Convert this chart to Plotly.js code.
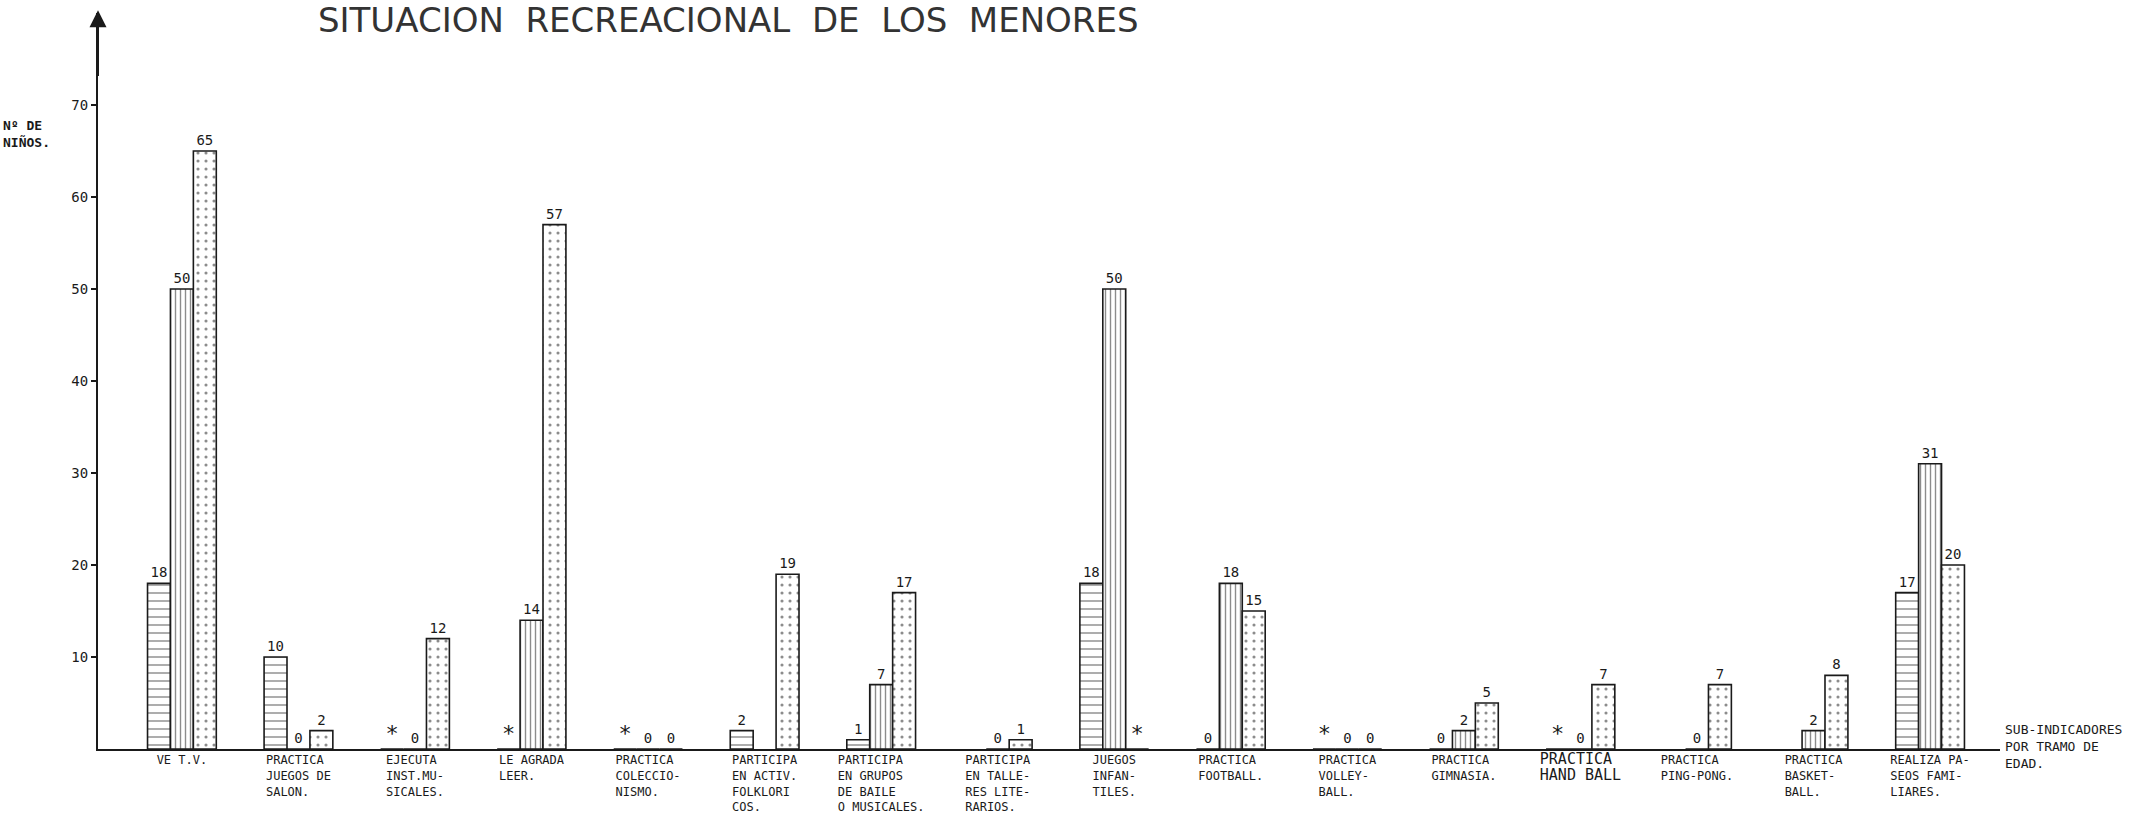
<!DOCTYPE html>
<html>
<head>
<meta charset="utf-8">
<script src="https://cdn.plot.ly/plotly-3.0.1.min.js"></script>
<style>html,body{margin:0;padding:0;background:#fff;}#chart{width:2142px;height:814px;}</style>
</head>
<body>
<div id="chart"></div>
<script>
// Categories (sub-indicators), as lettered under the x axis
const categories = [
  "VE T.V.",
  "PRACTICA<br>JUEGOS DE<br>SALON.",
  "EJECUTA<br>INST.MU-<br>SICALES.",
  "LE AGRADA<br>LEER.",
  "PRACTICA<br>COLECCIO-<br>NISMO.",
  "PARTICIPA<br>EN ACTIV.<br>FOLKLORI<br>COS.",
  "PARTICIPA<br>EN GRUPOS<br>DE BAILE<br>O MUSICALES.",
  "PARTICIPA<br>EN TALLE-<br>RES LITE-<br>RARIOS.",
  "JUEGOS<br>INFAN-<br>TILES.",
  "PRACTICA<br>FOOTBALL.",
  "PRACTICA<br>VOLLEY-<br>BALL.",
  "PRACTICA<br>GIMNASIA.",
  "PRACTICA<br>HAND BALL",
  "PRACTICA<br>PING-PONG.",
  "PRACTICA<br>BASKET-<br>BALL.",
  "REALIZA PA-<br>SEOS FAMI-<br>LIARES."
];
// Number of children per age bracket ("tramo de edad").
// '*' = marked with an asterisk in the original, null = nothing drawn/labelled.
const tramo1 = [18, 10, '*', '*', '*', 2, 1, null, 18, 0, '*', 0, '*', null, null, 17];
const tramo2 = [50, 0, 0, 14, 0, null, 7, 0, 50, 18, 0, 2, 0, 0, 2, 31];
const tramo3 = [65, 2, 12, 57, 0, 19, 17, 1, '*', 15, 0, 5, 7, 7, 8, 20];

const yTicks = [10, 20, 30, 40, 50, 60, 70];
const chartTitle = "SITUACION  RECREACIONAL  DE  LOS  MENORES";
const yLabel = "<b>Nº DE<br>NIÑOS.</b>";
const xLabel = "SUB-INDICADORES<br>POR TRAMO DE<br>EDAD.";

const INK = '#1a1a1a';
const MONO = '"DejaVu Sans Mono", "Liberation Mono", monospace';

// Left-align the lines of each (monospace) category label by padding with no-break spaces
function leftAlign(label) {
  const lines = label.split('<br>');
  const n = Math.max(...lines.map(l => l.length));
  return lines.map(l => l + '\u00A0'.repeat(n - l.length)).join('<br>');
}
const tickText = categories.map((c, i) => {
  const t = leftAlign(c);
  return c.indexOf('HAND BALL') >= 0 ? '<span style="font-size:15px">' + t + '</span>' : t;
});

function makeTrace(vals, shape, size, solidity, name) {
  return {
    type: 'bar',
    name: name,
    x: categories,
    y: vals.map(v => (typeof v === 'number') ? v : (v === '*' ? 0 : null)),
    text: vals.map(v => (typeof v === 'number') ? String(v) : (v === '*' ? '*' : '')),
    textposition: 'outside',
    textangle: 0,
    constraintext: 'none',
    cliponaxis: false,
    textfont: {
      family: MONO,
      color: INK,
      size: vals.map(v => v === '*' ? 22 : 14)
    },
    marker: {
      color: '#ffffff',
      line: {color: INK, width: 1.6},
      pattern: {shape: shape, fgcolor: INK, bgcolor: '#ffffff', fillmode: 'overlay', size: size, solidity: solidity}
    },
    hoverinfo: 'skip'
  };
}

const data = [
  makeTrace(tramo1, '-', 8, 0.18, 'Tramo 1'),
  makeTrace(tramo2, '|', 5, 0.28, 'Tramo 2'),
  makeTrace(tramo3, '.', 8, 0.12, 'Tramo 3')
];

const layout = {
  width: 2142,
  height: 814,
  paper_bgcolor: '#ffffff',
  plot_bgcolor: '#ffffff',
  margin: {l: 98, r: 142, t: 13, b: 65, autoexpand: false},
  showlegend: false,
  barmode: 'group',
  bargap: 0.41,
  bargroupgap: 0,
  title: {
    text: chartTitle,
    font: {family: '"DejaVu Sans", sans-serif', size: 34, color: '#333'},
    x: 0.34, xref: 'container', xanchor: 'center',
    y: 0.975, yref: 'container', yanchor: 'middle'
  },
  xaxis: {
    type: 'category',
    range: [-0.72, 15.6],
    tickmode: 'array',
    tickvals: categories,
    ticktext: tickText,
    showline: true, linecolor: INK, linewidth: 2,
    showgrid: false, zeroline: false,
    ticks: '',
    ticklabelstandoff: -1,
    tickfont: {family: MONO, size: 12, color: INK},
    automargin: false,
    fixedrange: true
  },
  yaxis: {
    range: [0, 80],
    tickvals: yTicks,
    ticktext: yTicks.map(String),
    showline: true, linecolor: INK, linewidth: 2,
    showgrid: false, zeroline: false,
    ticks: 'outside', ticklen: 5, tickwidth: 1.5, tickcolor: INK,
    tickfont: {family: MONO, size: 14, color: INK},
    automargin: false,
    fixedrange: true
  },
  annotations: [
    {
      // arrow head on the y axis
      xref: 'x', yref: 'y', axref: 'x', ayref: 'y',
      x: -0.72, y: 80.3, ax: -0.72, ay: 73,
      text: '', showarrow: true, arrowhead: 2, arrowsize: 1.7, arrowwidth: 2, arrowcolor: INK
    },
    {
      xref: 'paper', yref: 'y', x: -0.051, y: 68.8,
      xanchor: 'left', yanchor: 'top', align: 'left',
      text: yLabel, showarrow: false,
      font: {family: MONO, size: 13, color: INK}
    },
    {
      xref: 'paper', yref: 'y', x: 1.0016, y: 3.2,
      xanchor: 'left', yanchor: 'top', align: 'left',
      text: xLabel, showarrow: false,
      font: {family: MONO, size: 13, color: INK}
    }
  ]
};

Plotly.newPlot('chart', data, layout, {staticPlot: true, displayModeBar: false});
</script>
</body>
</html>
